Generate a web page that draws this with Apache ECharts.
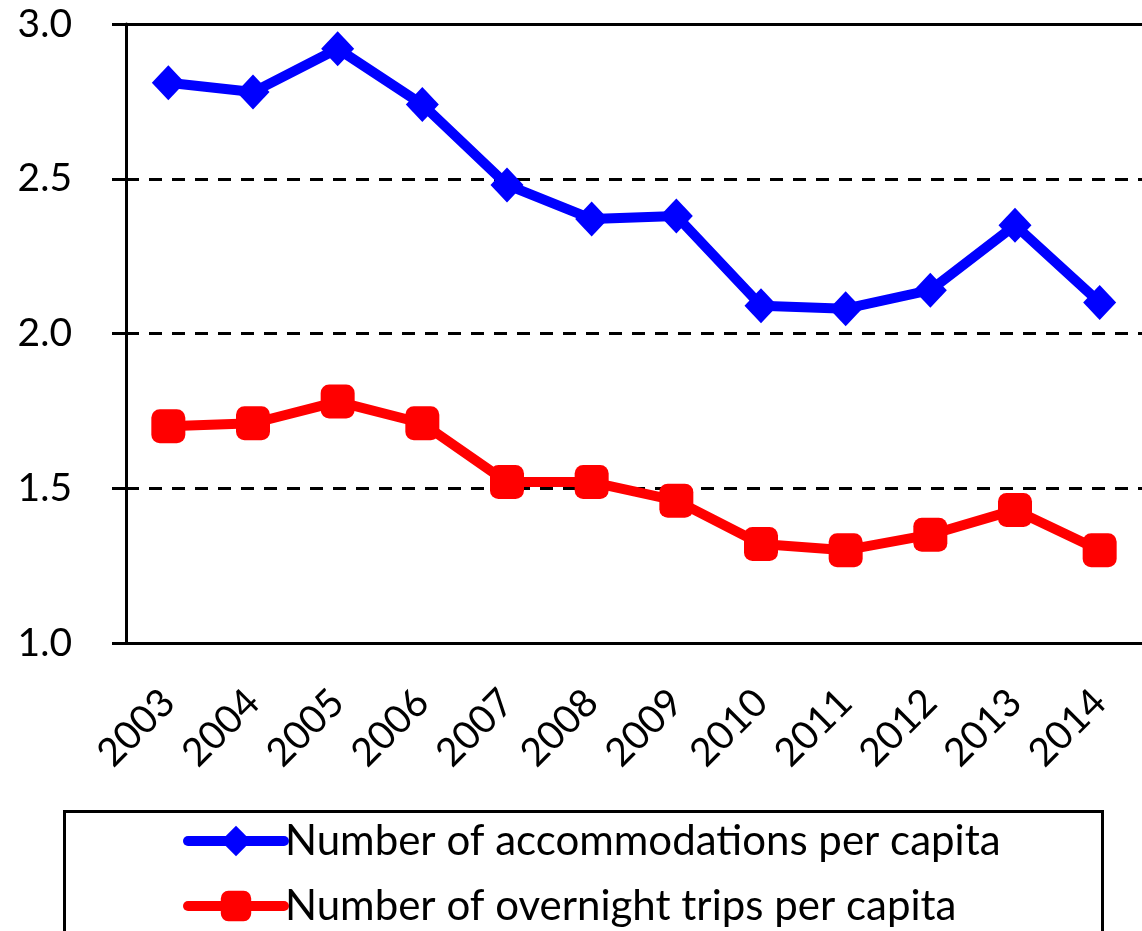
<!DOCTYPE html>
<html>
<head>
<meta charset="utf-8">
<script src="https://cdn.jsdelivr.net/npm/echarts@6/dist/echarts.min.js"></script>
<style>
  html, body { margin: 0; padding: 0; background: #fff; }
  #chart { width: 1142px; height: 931px; }
</style>
</head>
<body>
<div id="chart"></div>
<script>
const years = ['2003', '2004', '2005', '2006', '2007', '2008', '2009', '2010', '2011', '2012', '2013', '2014'];
const accommodations = [2.81, 2.78, 2.92, 2.74, 2.48, 2.37, 2.38, 2.09, 2.08, 2.14, 2.35, 2.10];
const overnightTrips = [1.70, 1.71, 1.78, 1.71, 1.52, 1.52, 1.46, 1.32, 1.30, 1.35, 1.43, 1.30];
const seriesNames = ['Number of accommodations per capita', 'Number of overnight trips per capita'];

const font = 'Lato, "Open Sans", sans-serif';
const chart = echarts.init(document.getElementById('chart'), null, { renderer: 'canvas' });

chart.setOption({
  backgroundColor: '#fff',
  animation: false,
  grid: { left: 126, right: -21, top: 24, bottom: 288 },
  // legend frame (bottom edge runs off the picture)
  graphic: [{
    type: 'rect',
    left: 62,
    top: 809,
    shape: { width: 1038, height: 160 },
    style: { fill: 'none', stroke: '#000', lineWidth: 3 },
    z: 0
  }],
  legend: {
    orient: 'vertical',
    left: 183,
    top: 820,
    padding: 0,
    data: seriesNames,
    itemWidth: 96,
    itemHeight: 38,
    itemGap: 23,
    lineStyle: { width: 10, cap: 'round' },
    textStyle: { fontFamily: font, fontSize: 42, lineHeight: 40, color: '#000', padding: [0, 0, 0, -4] }
  },
  xAxis: [
    {
      type: 'category',
      data: years,
      axisLine: { lineStyle: { color: '#000', width: 3 } },
      axisTick: { length: 14, lineStyle: { color: '#000', width: 3 } },
      axisLabel: {
        rotate: 45,
        margin: 53,
        interval: 0,
        color: '#000',
        fontFamily: font,
        fontSize: 39
      }
    },
    {
      type: 'category',
      position: 'top',
      data: years,
      axisLine: { lineStyle: { color: '#000', width: 3 } },
      axisTick: { show: false },
      axisLabel: { show: false }
    }
  ],
  yAxis: {
    type: 'value',
    min: 1.0,
    max: 3.0,
    interval: 0.5,
    axisLine: { show: true, lineStyle: { color: '#000', width: 3 } },
    axisTick: { show: true, length: 14, lineStyle: { color: '#000', width: 3 } },
    axisLabel: {
      margin: 54,
      color: '#000',
      fontFamily: font,
      fontSize: 39,
      formatter: v => v.toFixed(1)
    },
    splitLine: { lineStyle: { color: '#000', width: 3, type: [13, 10] } }
  },
  series: [
    {
      name: seriesNames[0],
      type: 'line',
      data: accommodations,
      symbol: 'diamond',
      symbolSize: [33, 35],
      lineStyle: { color: '#0000ff', width: 10 },
      itemStyle: { color: '#0000ff' }
    },
    {
      name: seriesNames[1],
      type: 'line',
      data: overnightTrips,
      symbol: 'roundRect',
      symbolSize: [34, 34],
      lineStyle: { color: '#ff0000', width: 10 },
      itemStyle: { color: '#ff0000' }
    }
  ]
});
</script>
</body>
</html>
